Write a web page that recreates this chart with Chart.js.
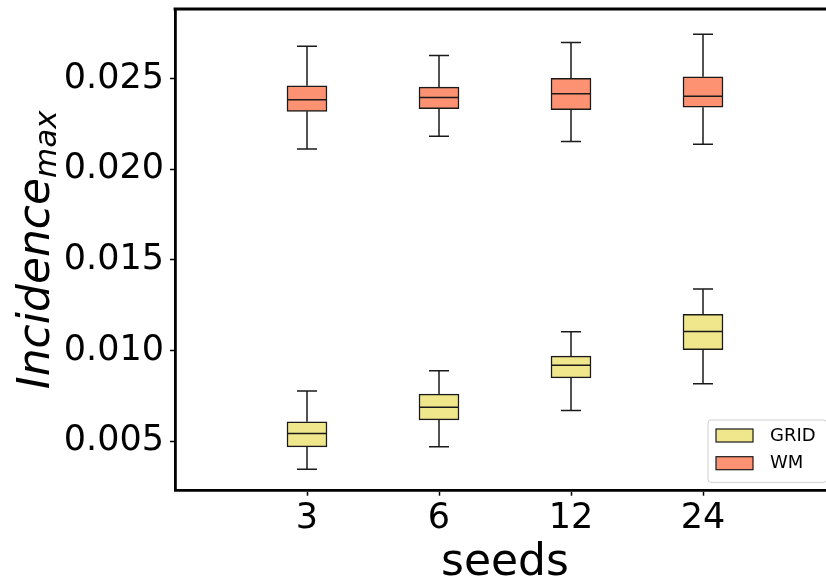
<!DOCTYPE html>
<html>
<head>
<meta charset="utf-8">
<script src="https://cdn.jsdelivr.net/npm/chart.js@4.4.1/dist/chart.umd.min.js"></script>
<style>
  html, body { margin: 0; padding: 0; background: #fff; overflow: hidden; }
  #wrap { width: 826px; height: 583px; overflow: hidden; }
</style>
</head>
<body>
<div id="wrap"><canvas id="chart" width="836" height="583"></canvas></div>
<script>
const seeds = ['3', '6', '12', '24'];
const yTicks = [0.005, 0.010, 0.015, 0.020, 0.025];

// GRID boxes (whisker low, q1, median, q3, whisker high)
const gridMin = [0.00344, 0.00468, 0.00669, 0.00817];
const gridQ1  = [0.00468, 0.00617, 0.00849, 0.01005];
const gridMed = [0.00542, 0.00687, 0.00918, 0.01105];
const gridQ3  = [0.00606, 0.00759, 0.00969, 0.01199];
const gridMax = [0.00777, 0.00888, 0.01103, 0.01340];

// WM boxes
const wmMin = [0.02112, 0.02183, 0.02154, 0.02138];
const wmQ1  = [0.02320, 0.02335, 0.02329, 0.02343];
const wmMed = [0.02384, 0.02397, 0.02417, 0.02404];
const wmQ3  = [0.02461, 0.02454, 0.02502, 0.02511];
const wmMax = [0.02680, 0.02628, 0.02700, 0.02746];

Chart.defaults.font.family = '"DejaVu Sans", sans-serif';
Chart.defaults.color = '#000';

const boxDataset = (label, color, q1, q3, lo, med, hi) => ({
  label: label,
  data: seeds.map((s, i) => ({ x: i + 1, y: [q1[i], q3[i]] })),
  backgroundColor: color,
  borderColor: '#1a1a1a',
  borderWidth: 1.5,
  borderSkipped: false,
  barThickness: 40,
  grouped: false,
  stats: { lo: lo, med: med, hi: hi }
});

// whiskers, caps and medians on top of the floating bars
const whiskers = {
  id: 'whiskers',
  afterDatasetsDraw(chart) {
    const { ctx, scales: { y } } = chart;
    ctx.save();
    ctx.strokeStyle = '#1a1a1a';
    ctx.lineWidth = 1.5;
    chart.data.datasets.forEach((ds, di) => {
      const meta = chart.getDatasetMeta(di);
      meta.data.forEach((bar, i) => {
        const cx = bar.x, w = bar.width;
        const yLo = y.getPixelForValue(ds.stats.lo[i]);
        const yHi = y.getPixelForValue(ds.stats.hi[i]);
        const yMed = y.getPixelForValue(ds.stats.med[i]);
        const yQ1 = y.getPixelForValue(ds.data[i].y[0]);
        const yQ3 = y.getPixelForValue(ds.data[i].y[1]);
        ctx.beginPath();
        ctx.moveTo(cx, yQ3); ctx.lineTo(cx, yHi);
        ctx.moveTo(cx, yQ1); ctx.lineTo(cx, yLo);
        ctx.moveTo(cx - w / 4, yHi); ctx.lineTo(cx + w / 4, yHi);
        ctx.moveTo(cx - w / 4, yLo); ctx.lineTo(cx + w / 4, yLo);
        ctx.moveTo(cx - w / 2, yMed); ctx.lineTo(cx + w / 2, yMed);
        ctx.stroke();
      });
    });
    ctx.restore();
  }
};

// top spine, y title with subscript, legend box in lower right
const extras = {
  id: 'extras',
  afterDraw(chart) {
    const { ctx, chartArea: ca } = chart;
    ctx.save();
    ctx.strokeStyle = '#000';
    ctx.lineWidth = 2.8;
    ctx.beginPath();
    ctx.moveTo(ca.left - 1.4, ca.top);
    ctx.lineTo(ca.right + 2, ca.top);
    ctx.stroke();

    // y axis title
    ctx.translate(49, (ca.top + ca.bottom) / 2);
    ctx.rotate(-Math.PI / 2);
    ctx.fillStyle = '#000';
    ctx.textBaseline = 'alphabetic';
    ctx.font = 'italic 44px "DejaVu Sans"';
    const w1 = ctx.measureText('Incidence').width;
    ctx.font = 'italic 31px "DejaVu Sans"';
    const w2 = ctx.measureText('max').width;
    const x0 = -(w1 + w2) / 2;
    ctx.font = 'italic 44px "DejaVu Sans"';
    ctx.fillText('Incidence', x0, 0);
    ctx.font = 'italic 31px "DejaVu Sans"';
    ctx.fillText('max', x0 + w1, 7);
    ctx.restore();

    // legend
    ctx.save();
    const right = ca.right - 8.3, bottom = ca.bottom - 8.3;
    const left = right - 118.7, top = bottom - 62.4;
    ctx.beginPath();
    ctx.roundRect(left, top, right - left, bottom - top, 3);
    ctx.fillStyle = 'rgba(255,255,255,0.8)';
    ctx.fill();
    ctx.strokeStyle = '#d0d0d0';
    ctx.lineWidth = 1;
    ctx.stroke();
    ctx.font = '18px "DejaVu Sans"';
    ctx.textBaseline = 'middle';
    chart.data.datasets.forEach((ds, i) => {
      const py = top + 9 + i * 27.7;
      ctx.fillStyle = ds.backgroundColor;
      ctx.fillRect(left + 8, py, 37, 13);
      ctx.strokeStyle = '#1a1a1a';
      ctx.lineWidth = 1.2;
      ctx.strokeRect(left + 8, py, 37, 13);
      ctx.fillStyle = '#000';
      ctx.fillText(ds.label, left + 62, py + 7);
    });
    ctx.restore();
  }
};

new Chart(document.getElementById('chart'), {
  type: 'bar',
  data: {
    datasets: [
      boxDataset('GRID', '#f0e68c', gridQ1, gridQ3, gridMin, gridMed, gridMax),
      boxDataset('WM', '#fc9272', wmQ1, wmQ3, wmMin, wmMed, wmMax)
    ]
  },
  options: {
    responsive: false,
    animation: false,
    devicePixelRatio: 1,
    layout: { padding: { left: 0, top: 9, right: 1, bottom: 0 } },
    plugins: { legend: { display: false }, tooltip: { enabled: false } },
    scales: {
      x: {
        type: 'linear',
        min: 0,
        max: 5,
        offset: false,
        afterBuildTicks: (s) => { s.ticks = seeds.map((_, i) => ({ value: i + 1 })); },
        afterFit: (s) => { s.height = 92.3; s.paddingLeft = 0; s.paddingRight = 0; },
        ticks: {
          callback: (v, i) => seeds[i],
          font: { size: 35 },
          color: '#000',
          padding: 2,
          autoSkip: false,
          maxRotation: 0
        },
        grid: { offset: false, drawOnChartArea: false, drawTicks: true, tickLength: 5, tickWidth: 1.5, tickColor: '#000' },
        border: { display: true, color: '#000', width: 2.8 },
        title: { display: true, text: 'seeds', font: { size: 44 }, color: '#000', padding: { top: 0, bottom: -7 } }
      },
      y: {
        min: 0.00226,
        max: 0.02885,
        afterBuildTicks: (s) => { s.ticks = yTicks.map((v) => ({ value: v })); },
        afterFit: (s) => { s.width = 175; s.paddingTop = 0; s.paddingBottom = 0; },
        ticks: {
          callback: (v) => v.toFixed(3),
          font: { size: 35 },
          color: '#000',
          padding: 6
        },
        grid: { drawOnChartArea: false, drawTicks: true, tickLength: 5, tickWidth: 1.5, tickColor: '#000' },
        border: { display: true, color: '#000', width: 2.8 }
      }
    }
  },
  plugins: [whiskers, extras]
});
</script>
</body>
</html>
